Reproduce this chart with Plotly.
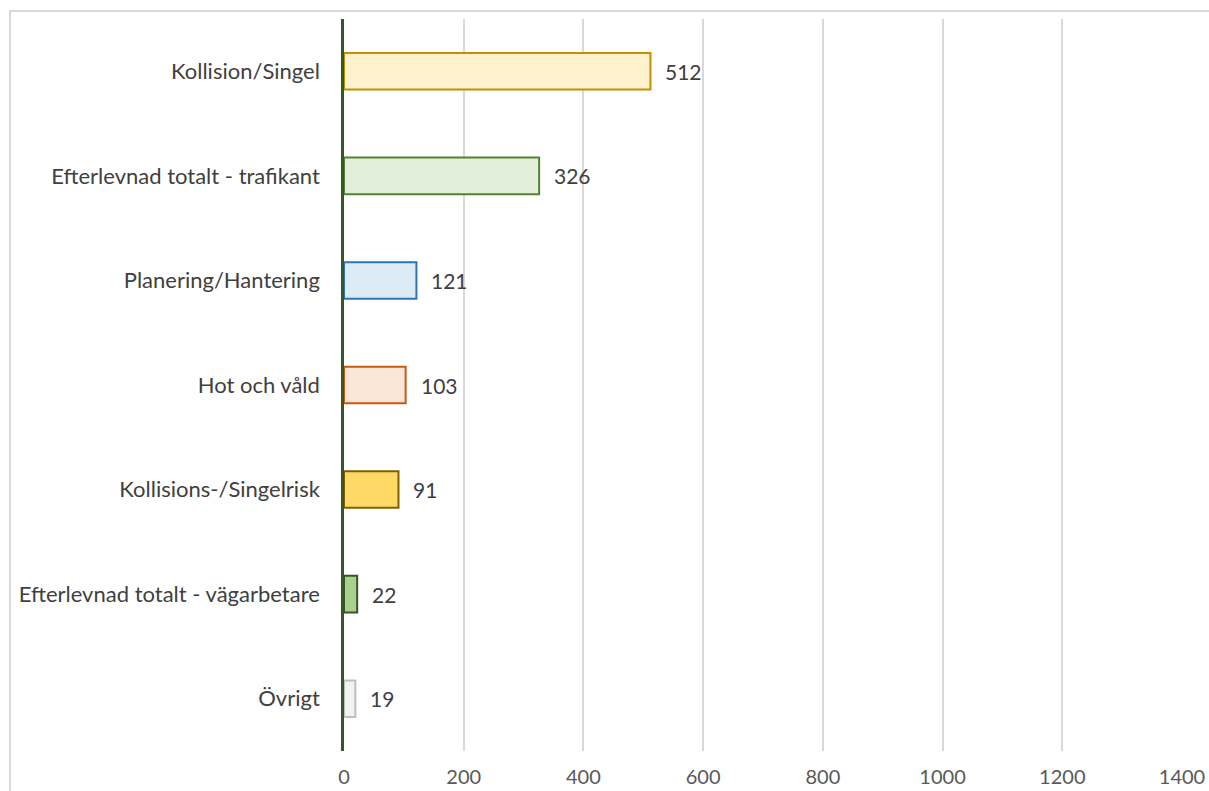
import plotly.graph_objects as go

categories = ["Kollision/Singel", "Efterlevnad totalt - trafikant", "Planering/Hantering",
              "Hot och våld", "Kollisions-/Singelrisk", "Efterlevnad totalt - vägarbetare", "Övrigt"]
values = [512, 326, 121, 103, 91, 22, 19]
fill_colors = ["#FFF2CC", "#E2EFDA", "#DDEBF7", "#FBE5D6", "#FFD966", "#A9D08E", "#F2F2F2"]
line_colors = ["#BF9000", "#548235", "#2E75B6", "#C55A11", "#7F6000", "#375623", "#BFBFBF"]
x_ticks = [0, 200, 400, 600, 800, 1000, 1200, 1400]

W, H = 1209, 791
L, R, T, B = 344, 27, 19, 40

fig = go.Figure()
fig.add_trace(go.Bar(
    y=categories, x=values, orientation="h", width=0.35,
    marker=dict(color=fill_colors, line=dict(color=line_colors, width=2)),
    hoverinfo="x+y", showlegend=False,
))

for c, v in zip(categories, values):
    fig.add_annotation(x=v, y=c, text=str(v), showarrow=False, xanchor="left",
                       xshift=13, font=dict(size=21, color="#404040", family="Lato"))

pw = W - L - R
ph = H - T - B
fig.add_shape(type="rect", xref="paper", yref="paper",
              x0=(10 - L) / pw, x1=(1230 - L) / pw,
              y0=(H - 820 - B) / ph, y1=(H - 11 - B) / ph,
              line=dict(color="#D9D9D9", width=2), fillcolor="rgba(0,0,0,0)", layer="below")

fig.update_layout(
    width=W, height=H, margin=dict(l=L, r=R, t=T, b=B, autoexpand=False),
    paper_bgcolor="white", plot_bgcolor="white",
    font=dict(family="Lato", size=21, color="#404040"),
    xaxis=dict(range=[0, 1400], tickvals=x_ticks, showgrid=True, gridcolor="#D9D9D9",
               gridwidth=2, zeroline=False, showline=False, ticks="", ticklabelstandoff=12,
               tickfont=dict(size=20, color="#595959", family="Lato")),
    yaxis=dict(autorange="reversed", showgrid=False, zeroline=False, showline=True,
               linecolor="#375623", linewidth=2.5, ticks="", ticklabelstandoff=17,
               tickfont=dict(size=22, color="#404040", family="Lato")),
)

fig.write_html("out.html", config={"displayModeBar": False},
               post_script="document.body.style.margin='0px';")
